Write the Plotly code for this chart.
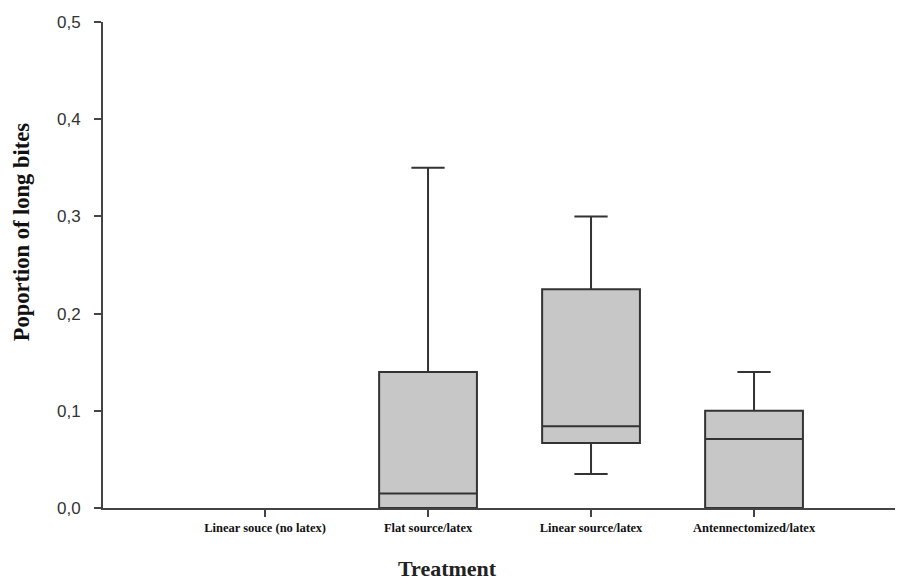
import plotly.graph_objects as go

categories = ["Linear souce (no latex)", "Flat source/latex", "Linear source/latex", "Antennectomized/latex"]
lower = [0.0, 0.0, 0.035, 0.0]
q1 = [0.0, 0.0, 0.067, 0.0]
median = [0.0, 0.015, 0.084, 0.071]
q3 = [0.0, 0.14, 0.225, 0.10]
upper = [0.0, 0.35, 0.30, 0.14]
y_ticks = [0.0, 0.1, 0.2, 0.3, 0.4, 0.5]
y_tick_labels = ["0,0", "0,1", "0,2", "0,3", "0,4", "0,5"]

# the first treatment has all values at zero: no visible box in the original
keep = [i for i in range(len(categories)) if upper[i] > 0]

fig = go.Figure()
fig.add_trace(go.Box(
    x=[categories[i] for i in keep],
    q1=[q1[i] for i in keep], median=[median[i] for i in keep], q3=[q3[i] for i in keep],
    lowerfence=[lower[i] for i in keep], upperfence=[upper[i] for i in keep],
    fillcolor="#c8c7c8",
    line=dict(color="#333333", width=2),
    whiskerwidth=0.34,
    width=0.6,
    boxpoints=False,
    hoverinfo="skip",
    showlegend=False,
))

fig.update_layout(
    width=903, height=584,
    margin=dict(l=95, r=0, t=14, b=84),
    plot_bgcolor="white", paper_bgcolor="white",
    xaxis=dict(
        type="category",
        categoryorder="array", categoryarray=categories,
        range=[-0.994, 3.963],
        showline=True, linecolor="#444444", linewidth=2,
        ticks="outside", ticklen=7, tickwidth=2, tickcolor="#444444",
        tickfont=dict(family="Liberation Serif", size=12.5, color="#111111", weight="bold"),
        showgrid=False, zeroline=False,
    ),
    yaxis=dict(
        range=[0, 0.5],
        tickvals=y_ticks, ticktext=y_tick_labels,
        showline=True, linecolor="#444444", linewidth=2,
        ticks="outside", ticklen=7, tickwidth=2, tickcolor="#444444",
        tickfont=dict(family="Liberation Sans", size=17, color="#333333"),
        ticklabelstandoff=10,
        showgrid=False, zeroline=False,
    ),
    annotations=[
        dict(text="Treatment", xref="paper", yref="paper", x=0.426, y=-0.1255,
             showarrow=False, xanchor="center", yanchor="middle",
             font=dict(family="Liberation Serif", size=22, color="#222222", weight="bold")),
        dict(text="Poportion of long bites", xref="paper", yref="paper", x=-0.1, y=0.568,
             textangle=-90, showarrow=False, xanchor="center", yanchor="middle",
             font=dict(family="Liberation Serif", size=22.5, color="#111111", weight="bold")),
    ],
)

fig.write_html("out.html")
